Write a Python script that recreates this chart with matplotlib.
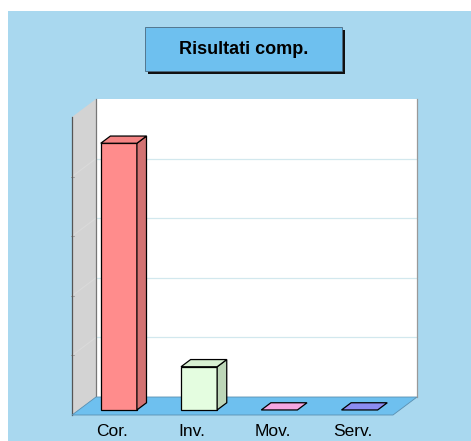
import matplotlib
matplotlib.use("Agg")
import matplotlib.pyplot as plt
from matplotlib.patches import Polygon, Rectangle
from matplotlib.transforms import IdentityTransform

# Dati
categorie = ["Cor.", "Inv.", "Mov.", "Serv."]
valori = [89.5, 14.5, 0, 0]
titolo = "Risultati comp."
griglia = [20, 40, 60, 80]

col_fronte = ["#ff8c8c", "#e4fde0", "#f5a6e2", "#8c8cf2"]
col_lato = ["#d27272", "#bdd6b8", "#f5a6e2", "#8c8cf2"]
col_sopra = ["#f48484", "#d8f0d2", "#f5a6e2", "#8c8cf2"]

W, H = 471, 441
fig = plt.figure(figsize=(W / 100, H / 100), dpi=100, facecolor="white")

# piano frontale del grafico
ax = fig.add_axes([72 / W, 26 / H, (393 - 72) / W, (415 - 117) / H])
ax.set_xlim(-0.5, len(categorie) - 0.5)
ax.set_ylim(0, 100)
ax.axis("off")

DX, DY = 24, 18  # profondita' in pixel
ID = IdentityTransform()


def proj(x, v, d):
    px, py = ax.transData.transform((x, v))
    return (px + d * DX, py + d * DY)


def poly(pts, fc, ec="none", lw=0.8, z=1):
    fig.patches.append(Polygon(pts, closed=True, facecolor=fc, edgecolor=ec,
                               linewidth=lw, transform=ID, zorder=z,
                               figure=fig))


def linea(a, b, c, lw=0.9, z=2):
    fig.lines.append(plt.Line2D([a[0], b[0]], [a[1], b[1]], color=c, lw=lw,
                                transform=ID, zorder=z, figure=fig))


# sfondo
fig.patches.append(Rectangle((8, 0), W - 8, H - 11, facecolor="#a9d8ef",
                             edgecolor="none", transform=ID, zorder=0, figure=fig))

# titolo con ombra
fig.patches.append(Rectangle((148, H - 74), 197, 44, facecolor="#111111",
                             transform=ID, zorder=1, figure=fig))
fig.patches.append(Rectangle((145, H - 71), 197, 44, facecolor="#6ec0ef",
                             edgecolor="#4a6a80", linewidth=0.6,
                             transform=ID, zorder=2, figure=fig))
fig.text(244 / W, 1 - 50 / H, titolo, ha="center", va="center",
         fontsize=13, fontweight="bold", family="Liberation Sans", zorder=3)

x0, x1 = -0.5, len(categorie) - 0.5
# parete di fondo
poly([proj(x0, 0, 1), proj(x1, 0, 1), proj(x1, 100, 1), proj(x0, 100, 1)],
     "white", z=1)
# parete sinistra
poly([proj(x0, 0, 0), proj(x0, 0, 1), proj(x0, 100, 1), proj(x0, 100, 0)],
     "#d3d3d3", z=1)
# griglia
for g in griglia:
    a, b, c = proj(x0, g, 0), proj(x0, g, 1), proj(x1, g, 1)
    linea(b, c, "#d2e8ee")
    linea(a, b, "#dadada", lw=0.8)
    linea((a[0] - 1, a[1]), (a[0] + 2, a[1]), "#999999", lw=0.6)
# bordi pareti
linea(proj(x0, 0, 1), proj(x0, 100, 1), "#777777", z=3)
linea(proj(x1, 0, 1), proj(x1, 100, 1), "#999999", z=3)
linea(proj(x0, 0, 0), proj(x0, 100, 0), "#555555", z=3)
# pavimento
poly([proj(x0, 0, 0), proj(x1, 0, 0), proj(x1, 0, 1), proj(x0, 0, 1)],
     "#6ec0ef", ec="#5a8fb0", lw=0.6, z=3)

# barre
d0, d1 = 0.28, 0.68
mezza = 0.225
for i, v in enumerate(valori):
    a, b = i - mezza, i + mezza
    z = 5 + i
    if v > 0:
        poly([proj(a, 0, d0), proj(b, 0, d0), proj(b, v, d0), proj(a, v, d0)],
             col_fronte[i], ec="black", lw=0.9, z=z)
        poly([proj(b, 0, d0), proj(b, 0, d1), proj(b, v, d1), proj(b, v, d0)],
             col_lato[i], ec="black", lw=0.9, z=z)
    poly([proj(a, v, d0), proj(b, v, d0), proj(b, v, d1), proj(a, v, d1)],
         col_sopra[i], ec="black", lw=0.9, z=z)

# etichette categorie
for i, c in enumerate(categorie):
    px, _ = proj(i, 0, 0)
    fig.text(px / W, 1 - 431 / H, c, ha="center", va="center",
             fontsize=12.5, family="Liberation Sans", zorder=4)

fig.savefig("out.png", dpi=100, facecolor="white")
